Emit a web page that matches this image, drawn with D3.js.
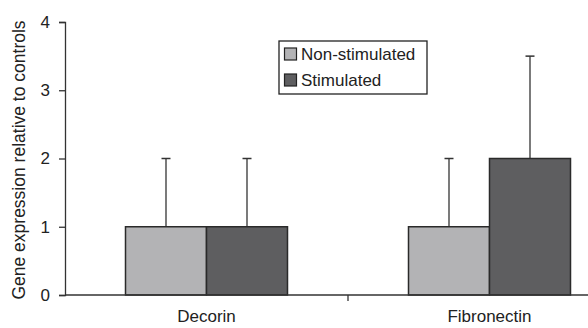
<!DOCTYPE html>
<html><head><meta charset="utf-8">
<script src="https://cdn.jsdelivr.net/npm/d3@7"></script>
<style>body{margin:0;background:#fff}svg{display:block}text{font-family:"Liberation Sans",Arial,sans-serif;fill:#222}</style>
</head><body><svg id="c" width="588" height="328"></svg>
<script>
const categories = ["Decorin", "Fibronectin"];
const seriesNames = ["Non-stimulated", "Stimulated"];
const nonStimulated = [1, 1];
const stimulated = [1, 2];
const nonStimulatedErr = [1, 1];
const stimulatedErr = [1, 1.5];
const yTicks = [0, 1, 2, 3, 4];
const colors = ["#b3b3b5", "#5e5e60"];

const svg = d3.select("#c");
const x0 = 65, bandW = 283;
const x = d3.scaleBand().domain(categories).range([x0, x0 + bandW * 2]).paddingInner(0).paddingOuter(0);
const y = d3.scaleLinear().domain([0, 4]).range([295, 22]);
const barW = 81;

const series = [
  {name: seriesNames[0], vals: nonStimulated, err: nonStimulatedErr, color: colors[0]},
  {name: seriesNames[1], vals: stimulated, err: stimulatedErr, color: colors[1]}
];

// error bars (upper only)
series.forEach((s, si) => {
  categories.forEach((c, ci) => {
    const cx = x(c) + x.bandwidth() / 2 + (si - 1) * barW + barW / 2;
    const top = y(s.vals[ci] + s.err[ci]);
    svg.append("line").attr("x1", cx).attr("x2", cx).attr("y1", y(s.vals[ci])).attr("y2", top)
      .attr("stroke", "#333").attr("stroke-width", 1.3);
    svg.append("line").attr("x1", cx - 4.5).attr("x2", cx + 4.5).attr("y1", top).attr("y2", top)
      .attr("stroke", "#333").attr("stroke-width", 1.5);
  });
});

// bars
series.forEach((s, si) => {
  svg.selectAll(null).data(categories).enter().append("rect")
    .attr("x", c => x(c) + x.bandwidth() / 2 + (si - 1) * barW)
    .attr("y", (c, i) => y(s.vals[i]))
    .attr("width", barW)
    .attr("height", (c, i) => y(0) - y(s.vals[i]))
    .attr("fill", s.color).attr("stroke", "#2a2a2a").attr("stroke-width", 1.5);
});

// y axis
const yAxis = d3.axisLeft(y).tickValues(yTicks).tickFormat(d3.format("d")).tickSize(6).tickPadding(9);
const gy = svg.append("g").attr("transform", `translate(${x0},0)`).call(yAxis);
gy.select(".domain").attr("stroke", "#333").attr("stroke-width", 1.3);
gy.selectAll(".tick line").attr("stroke", "#333").attr("stroke-width", 1.3);
gy.selectAll(".tick text").style("font-size", "17px").attr("fill", "#222");

// x axis
svg.append("line").attr("x1", x0).attr("x2", 588).attr("y1", y(0)).attr("y2", y(0))
  .attr("stroke", "#333").attr("stroke-width", 1.3);
svg.append("line").attr("x1", x0 + bandW).attr("x2", x0 + bandW).attr("y1", y(0)).attr("y2", y(0) + 6)
  .attr("stroke", "#333").attr("stroke-width", 1.3);
svg.selectAll(null).data(categories).enter().append("text")
  .attr("x", c => x(c) + x.bandwidth() / 2).attr("y", 322)
  .attr("text-anchor", "middle").style("font-size", "17px").text(d => d);

// y title
svg.append("text").attr("transform", "translate(25,160) rotate(-90)")
  .attr("text-anchor", "middle").style("font-size", "17.5px").text("Gene expression relative to controls");

// legend
const lg = svg.append("g");
lg.append("rect").attr("x", 279).attr("y", 41).attr("width", 148).attr("height", 53)
  .attr("fill", "#fff").attr("stroke", "#222").attr("stroke-width", 1.3);
series.forEach((s, i) => {
  const yy = 54 + i * 26;
  lg.append("rect").attr("x", 284.5).attr("y", yy - 6).attr("width", 12).attr("height", 12)
    .attr("fill", s.color).attr("stroke", "#222").attr("stroke-width", 1.2);
  lg.append("text").attr("x", 301).attr("y", yy + 6).style("font-size", "17px").text(s.name);
});
</script></body></html>
